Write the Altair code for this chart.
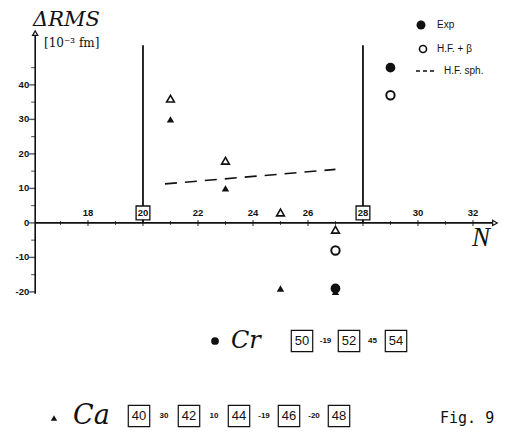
import altair as alt
import pandas as pd

# Delta RMS (1e-3 fm) versus neutron number N
ca_N = [21, 23, 25, 27]
ca_exp = [30, 10, -19, -20]
ca_hf_beta = [36, 18, 3, -2]

cr_N = [27, 29]
cr_exp = [-19, 45]
cr_hf_beta = [-8, 37]

hf_sph_N = [20.8, 27.0]
hf_sph = [11.3, 15.5]

magic_N = [20, 28]

x_major = [18, 20, 22, 24, 26, 28, 30, 32]
x_minor = [17, 19, 21, 23, 25, 27, 29, 31]
y_major = [-20, -10, 0, 10, 20, 30, 40]
y_minor = [-15, -5, 5, 15, 25, 35, 45]

ca_A = [40, 42, 44, 46, 48]
cr_A = [50, 52, 54]

INK = "#111111"
SANS = "Liberation Sans"
SERIF = "DejaVu Serif"

x_scale = alt.Scale(domain=[14.8, 33.42], nice=False, zero=False)
y_scale = alt.Scale(domain=[-60.6, 64.6], nice=False, zero=False)

AXIS_N = 16.08    # N where the vertical axis stands
Y_TOP = 55        # tip of the vertical axis arrow
X_END = 32.8      # tip of the N axis arrow
MAGIC_TOP = 51.5  # upper end of the shell-closure lines


def X(field="N"):
    return alt.X(f"{field}:Q", scale=x_scale, axis=None)


def Y(field="v"):
    return alt.Y(f"{field}:Q", scale=y_scale, axis=None)


def PX(field="px"):
    return alt.X(f"{field}:Q", scale=None, axis=None)


def PY(field="py"):
    return alt.Y(f"{field}:Q", scale=None, axis=None)


def note(text, x, y, **kw):
    return alt.Chart(pd.DataFrame({"t": [text]})).mark_text(color=INK, **kw).encode(
        x=alt.value(x), y=alt.value(y), text="t:N")


layers = []

# --- axes -----------------------------------------------------------------
layers.append(alt.Chart(pd.DataFrame({"N": [AXIS_N], "v": [y_major[0] - 0.5], "v2": [Y_TOP]}))
              .mark_rule(color=INK, strokeWidth=1.6)
              .encode(x=X(), y=Y(), y2="v2:Q"))
layers.append(alt.Chart(pd.DataFrame({"N": [AXIS_N], "N2": [X_END], "v": [0]}))
              .mark_rule(color=INK, strokeWidth=1.6)
              .encode(x=X(), x2="N2:Q", y=Y()))
layers.append(alt.Chart(pd.DataFrame({"N": [AXIS_N], "v": [Y_TOP]}))
              .mark_point(shape="triangle-up", size=28, filled=True, fill="white",
                          stroke=INK, strokeWidth=1.2, opacity=1)
              .encode(x=X(), y=Y()))
layers.append(alt.Chart(pd.DataFrame({"N": [X_END], "v": [0]}))
              .mark_point(shape="triangle-right", size=28, filled=True, fill="white",
                          stroke=INK, strokeWidth=1.2, opacity=1)
              .encode(x=X(), y=Y()))

# y ticks (pointing left) and labels
layers.append(alt.Chart(pd.DataFrame({"v": y_major, "N": AXIS_N}))
              .mark_tick(orient="horizontal", size=6, thickness=1.4, xOffset=-3, color=INK)
              .encode(x=X(), y=Y()))
layers.append(alt.Chart(pd.DataFrame({"v": y_minor, "N": AXIS_N}))
              .mark_tick(orient="horizontal", size=4, thickness=1.1, xOffset=-2, color=INK)
              .encode(x=X(), y=Y()))
layers.append(alt.Chart(pd.DataFrame({"v": y_major, "N": AXIS_N,
                                      "lab": [str(v) for v in y_major]}))
              .mark_text(align="right", baseline="middle", dx=-6, fontSize=9.5,
                         fontWeight="bold", font=SANS, color=INK)
              .encode(x=X(), y=Y(), text="lab:N"))

# N ticks crossing the axis
layers.append(alt.Chart(pd.DataFrame({"N": x_major, "v": 0}))
              .mark_tick(orient="vertical", size=6, thickness=1.3, color=INK)
              .encode(x=X(), y=Y()))
layers.append(alt.Chart(pd.DataFrame({"N": x_minor, "v": 0}))
              .mark_tick(orient="vertical", size=4, thickness=1.0, color=INK)
              .encode(x=X(), y=Y()))

# shell closures N = 20, 28
layers.append(alt.Chart(pd.DataFrame({"N": magic_N, "v": 0, "v2": MAGIC_TOP}))
              .mark_rule(color=INK, strokeWidth=1.8)
              .encode(x=X(), y=Y(), y2="v2:Q"))
layers.append(alt.Chart(pd.DataFrame({"N": magic_N, "v": 0}))
              .mark_point(shape="square", size=190, filled=True, fill="white",
                          stroke=INK, strokeWidth=1.3, opacity=1, yOffset=-10)
              .encode(x=X(), y=Y()))

layers.append(alt.Chart(pd.DataFrame({"N": x_major, "v": 0,
                                      "lab": [str(n) for n in x_major]}))
              .mark_text(align="center", baseline="middle", dy=-10, fontSize=9.5,
                         fontWeight="bold", font=SANS, color=INK)
              .encode(x=X(), y=Y(), text="lab:N"))

# --- spherical Hartree-Fock trend ------------------------------------------
layers.append(alt.Chart(pd.DataFrame({"N": hf_sph_N, "v": hf_sph}))
              .mark_line(color=INK, strokeWidth=1.6, strokeDash=[12, 8])
              .encode(x=X(), y=Y()))

# --- data points -------------------------------------------------------------
layers.append(alt.Chart(pd.DataFrame({"N": ca_N, "v": ca_hf_beta}))
              .mark_point(shape="triangle-up", filled=False, size=60, strokeWidth=1.6,
                          color=INK, opacity=1)
              .encode(x=X(), y=Y()))
layers.append(alt.Chart(pd.DataFrame({"N": ca_N, "v": ca_exp}))
              .mark_point(shape="triangle-up", filled=True, size=55, color=INK, opacity=1)
              .encode(x=X(), y=Y()))
layers.append(alt.Chart(pd.DataFrame({"N": cr_N, "v": cr_hf_beta}))
              .mark_point(shape="circle", filled=False, size=70, strokeWidth=2,
                          color=INK, opacity=1)
              .encode(x=X(), y=Y()))
layers.append(alt.Chart(pd.DataFrame({"N": cr_N, "v": cr_exp}))
              .mark_point(shape="circle", filled=True, size=95, color=INK, opacity=1)
              .encode(x=X(), y=Y()))

# --- key -------------------------------------------------------------------
layers.append(alt.Chart(pd.DataFrame({"t": ["o"]}))
              .mark_point(shape="circle", filled=True, size=80, color=INK, opacity=1)
              .encode(x=alt.value(421), y=alt.value(25)))
layers.append(alt.Chart(pd.DataFrame({"t": ["o"]}))
              .mark_point(shape="circle", filled=False, size=50, strokeWidth=1.6,
                          color=INK, opacity=1)
              .encode(x=alt.value(423), y=alt.value(49)))
layers.append(alt.Chart(pd.DataFrame({"t": ["o"]}))
              .mark_rule(color=INK, strokeWidth=1.3, strokeDash=[4, 3])
              .encode(x=alt.value(416), x2=alt.value(437), y=alt.value(71)))
layers.append(note("Exp", 437, 25, align="left", baseline="middle", fontSize=10, font=SANS))
layers.append(note("H.F. + β", 437, 49, align="left", baseline="middle", fontSize=10, font=SANS))
layers.append(note("H.F. sph.", 444, 71, align="left", baseline="middle", fontSize=10, font=SANS))

# --- titles ----------------------------------------------------------------
layers.append(note("ΔRMS", 33, 26, align="left", baseline="alphabetic", fontSize=21,
                   font=SERIF, fontStyle="italic"))
layers.append(note("[10⁻³ fm]", 44, 43, align="left", baseline="middle", fontSize=12,
                   font=SERIF))
layers.append(note("N", 481, 238, align="center", baseline="middle", fontSize=27,
                   font="Liberation Serif", fontStyle="italic"))

# --- isotope chains with the measured shifts between neighbours ---------------
def chain(A_list, diffs, x0, step, y):
    boxes = pd.DataFrame({"lab": [str(a) for a in A_list],
                          "px": [x0 + i * step for i in range(len(A_list))],
                          "py": y})
    gaps = pd.DataFrame({"lab": [str(d) for d in diffs],
                         "px": [x0 + (i + 0.5) * step for i in range(len(diffs))],
                         "py": y})
    return [
        alt.Chart(boxes).mark_point(shape="square", size=460, filled=False, stroke=INK,
                                    strokeWidth=1.2, opacity=1)
        .encode(x=PX(), y=PY()),
        alt.Chart(boxes).mark_text(fontSize=13, font=SANS, color=INK, baseline="middle")
        .encode(x=PX(), y=PY(), text="lab:N"),
        alt.Chart(gaps).mark_text(fontSize=8, fontWeight="bold", font=SANS, color=INK,
                                  baseline="middle")
        .encode(x=PX(), y=PY(), text="lab:N"),
    ]


layers.append(alt.Chart(pd.DataFrame({"t": ["o"]}))
              .mark_point(shape="circle", filled=True, size=60, color=INK, opacity=1)
              .encode(x=alt.value(215), y=alt.value(341)))
layers.append(note("Cr", 231, 341, align="left", baseline="middle", fontSize=24,
                   font=SERIF, fontStyle="italic"))
layers += chain(cr_A, cr_exp, 302, 47, 341)

layers.append(alt.Chart(pd.DataFrame({"t": ["o"]}))
              .mark_point(shape="triangle-up", filled=True, size=40, color=INK, opacity=1)
              .encode(x=alt.value(54), y=alt.value(418)))
layers.append(note("Ca", 73, 416, align="left", baseline="middle", fontSize=27,
                   font=SERIF, fontStyle="italic"))
layers += chain(ca_A, ca_exp, 139, 50, 416)

layers.append(note("Fig. 9", 440, 418, align="left", baseline="middle", fontSize=15,
                   font="DejaVu Sans Mono"))

chart = (alt.layer(*layers)
         .properties(width=512, height=432, autosize="none", padding=0,
                     background="white")
         .configure_view(stroke=None))

chart.save("out.html", embed_options={"renderer": "svg", "actions": False})
